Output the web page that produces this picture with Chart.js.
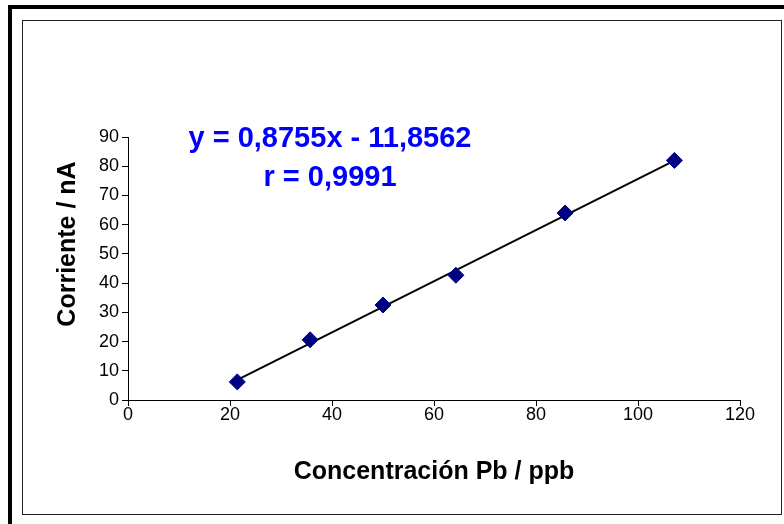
<!DOCTYPE html>
<html>
<head>
<meta charset="utf-8">
<script src="https://cdn.jsdelivr.net/npm/chart.js@4"></script>
<style>
  html, body { margin:0; padding:0; background:#fff; }
  #wrap { width:784px; height:524px; position:relative; }
</style>
</head>
<body>
<div id="wrap"><canvas id="calChart" width="784" height="524"></canvas></div>
<script>
// ---------------- DATA ----------------
const concentracion = [21.43, 35.71, 50.0, 64.29, 85.71, 107.14];
const corriente = [6.2, 20.6, 32.5, 42.7, 64.0, 82.0];
const slope = 0.8755;
const intercept = -11.8562;
const eqLines = ["y = 0,8755x - 11,8562", "r = 0,9991"];
const xTitle = "Concentración Pb / ppb";
const yTitle = "Corriente / nA";

// trend line only from first to last concentration
const xFirst = concentracion[0];
const xLast = concentracion[concentracion.length - 1];
const trend = [
  {x: xFirst, y: slope * xFirst + intercept},
  {x: xLast, y: slope * xLast + intercept}
];
const points = concentracion.map((c, i) => ({x: c, y: corriente[i]}));

const FONT = "'Liberation Sans', Arial, sans-serif";
Chart.defaults.font.family = FONT;
Chart.defaults.color = "#000";

// ---------------- FRAME + TEXTS ----------------
const framePlugin = {
  id: "frame",
  beforeDraw(chart){
    const ctx = chart.ctx;
    ctx.save();
    ctx.fillStyle = "#fff";
    ctx.fillRect(0, 0, chart.width, chart.height);
    ctx.fillStyle = "#000";
    ctx.fillRect(8, 5, 776, 4);
    ctx.fillRect(8, 5, 4, 519);
    ctx.strokeStyle = "#222";
    ctx.lineWidth = 1;
    ctx.strokeRect(22.5, 20.5, 759, 494);
    ctx.restore();
  },
  afterDraw(chart){
    const ctx = chart.ctx;
    ctx.save();
    ctx.textAlign = "center";
    ctx.textBaseline = "middle";
    // equation
    ctx.fillStyle = "#0000FF";
    ctx.font = "bold 29px " + FONT;
    ctx.fillText(eqLines[0], 330, 139);
    ctx.fillText(eqLines[1], 330, 178);
    // y axis title
    ctx.fillStyle = "#000";
    ctx.font = "bold 25px " + FONT;
    ctx.translate(68, 244);
    ctx.rotate(-Math.PI / 2);
    ctx.fillText(yTitle, 0, 0);
    ctx.restore();
  }
};

const ctx = document.getElementById("calChart").getContext("2d");
const chart = new Chart(ctx, {
  type: "scatter",
  data: {
    datasets: [
      {
        label: "Ajuste",
        data: trend,
        showLine: true,
        borderColor: "#000",
        borderWidth: 2,
        pointRadius: 0,
        order: 2
      },
      {
        label: "Datos",
        data: points,
        pointStyle: "rectRot",
        pointRadius: 8,
        pointBackgroundColor: "#000080",
        pointBorderColor: "#000080",
        pointBorderWidth: 1,
        order: 1
      }
    ]
  },
  options: {
    responsive: false,
    animation: false,
    layout: { padding: { left: 22, right: 44, top: 137, bottom: 0 } },
    plugins: { legend: { display: false }, tooltip: { enabled: false } },
    scales: {
      x: {
        type: "linear",
        min: 0, max: 120,
        ticks: { stepSize: 20, padding: -2, font: { size: 18 }, color: "#000" },
        grid: { drawOnChartArea: false, drawTicks: true, tickLength: 6, color: "#000" },
        border: { color: "#000", width: 1 },
        title: {
          display: true,
          text: xTitle,
          font: { size: 25, weight: "bold" },
          color: "#000",
          padding: { top: 0, bottom: 37 }
        },
        afterFit(scale){ scale.height = 124; }
      },
      y: {
        type: "linear",
        min: 0, max: 90,
        ticks: { stepSize: 10, padding: 3, font: { size: 18 }, color: "#000" },
        grid: { drawOnChartArea: false, drawTicks: true, tickLength: 6, color: "#000" },
        border: { color: "#000", width: 1 },
        afterFit(scale){ scale.width = 106; }
      }
    }
  },
  plugins: [framePlugin]
});
</script>
</body>
</html>
